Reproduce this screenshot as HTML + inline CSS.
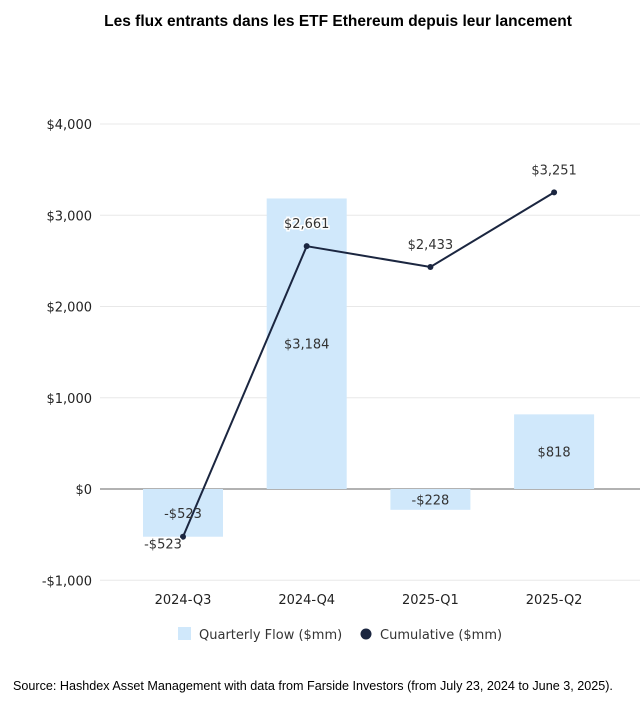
<!DOCTYPE html>
<html><head><meta charset="utf-8"><style>
body{margin:0;background:#fff;width:641px;height:708px;overflow:hidden;font-family:"Liberation Sans",sans-serif}
svg text{font-family:"DejaVu Sans","Liberation Sans",sans-serif}
</style></head><body>
<svg id="c" width="641" height="708">
<text x="338" y="26" text-anchor="middle" font-size="15.5" font-weight="bold" fill="#000" style="font-family:'Liberation Sans',sans-serif">Les flux entrants dans les ETF Ethereum depuis leur lancement</text>
<g id="grid"></g><g id="bars"></g><g id="line"></g><g id="labels"></g>
<g>
<rect x="178" y="627" width="13" height="13" fill="#d0e8fb"/>
<text x="199" y="639" font-size="13" fill="#333">Quarterly Flow ($mm)</text>
<circle cx="366" cy="634" r="5.5" fill="#1b2640"/>
<text x="380" y="639" font-size="13" fill="#333">Cumulative ($mm)</text>
</g>
<text x="13" y="690" font-size="12.6" fill="#000" style="font-family:'Liberation Sans',sans-serif">Source: Hashdex Asset Management with data from Farside Investors (from July 23, 2024 to June 3, 2025).</text>
</svg>
<script>
const categories=["2024-Q3","2024-Q4","2025-Q1","2025-Q2"];
const quarterly=[-523,3184,-228,818];
const cumulative=[-523,2661,2433,3251];
const ticks=[-1000,0,1000,2000,3000,4000];
const tickLabels=["-$1,000","$0","$1,000","$2,000","$3,000","$4,000"];
const NS="http://www.w3.org/2000/svg";
const y=v=>489-v*0.09125;
const x=i=>183+i*123.7;
function mk(p,t,a){const e=document.createElementNS(NS,t);for(const k in a)e.setAttribute(k,a[k]);document.getElementById(p).appendChild(e);return e;}
const fmt=v=>(v<0?"-$":"$")+Math.abs(v).toLocaleString("en-US");
ticks.forEach((t,i)=>{
 const l=mk("grid","line",{x1:100,x2:640,y1:y(t),y2:y(t),stroke:t===0?"#666":"#e8e8e8","stroke-width":1});
 
 
 const tx=mk("grid","text",{x:92,y:y(t)+5,"text-anchor":"end","font-size":13,fill:"#222"});
 tx.textContent=tickLabels[i];
 
 
});
categories.forEach((c,i)=>{
 const v=quarterly[i];
 const r=mk("bars","rect",{x:x(i)-40,width:80,y:Math.min(y(v),y(0)),height:Math.abs(y(v)-y(0)),fill:"#d0e8fb"});
 
 
 const t=mk("labels","text",{x:x(i),y:(y(v)+y(0))/2+5,"text-anchor":"middle","font-size":13,fill:"#333"});
 t.textContent=fmt(v);
 
 
 const xl=mk("labels","text",{x:x(i),y:604,"text-anchor":"middle","font-size":13,fill:"#222"});
 xl.textContent=c;
 
 
});
const pl=mk("line","polyline",{points:cumulative.map((v,i)=>x(i)+","+y(v)).join(" "),fill:"none",stroke:"#1b2640","stroke-width":2});


cumulative.forEach((v,i)=>{
 const c=mk("line","circle",{cx:x(i),cy:y(v),r:3,fill:"#1b2640"});
 
 
 const t=mk("labels","text",{x:i===0?x(i)-20:x(i),y:i===0?y(v)+12:y(v)-18,"text-anchor":"middle","font-size":13,fill:"#333",stroke:"#fff","stroke-width":3,"paint-order":"stroke"});
 t.textContent=fmt(v);
 
 
});
</script>
</body></html>
